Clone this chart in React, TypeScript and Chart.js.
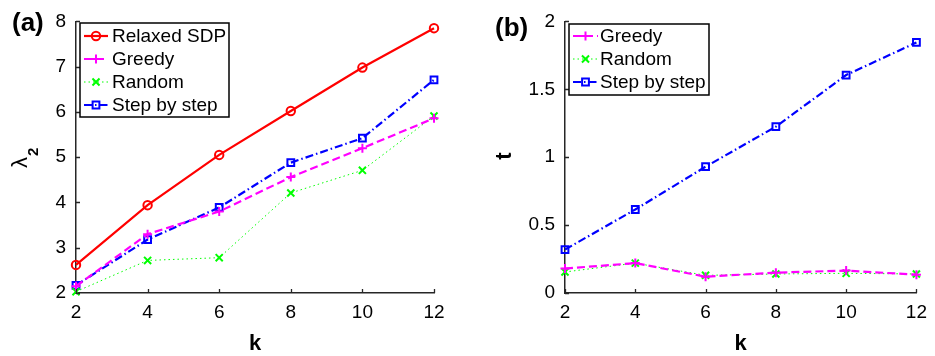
import React, { useEffect, useRef } from 'react';
import { Chart, registerables } from 'chart.js';

Chart.register(...registerables);

// ---------------- data ----------------
const kValues = [2, 4, 6, 8, 10, 12];
const xTickValues = [2, 4, 6, 8, 10, 12];

// panel (a): lambda_2
const lambdaSDP = [2.62, 3.94, 5.05, 6.02, 6.98, 7.85];
const lambdaGreedy = [2.15, 3.3, 3.8, 4.56, 5.2, 5.86];
const lambdaRandom = [2.03, 2.72, 2.78, 4.21, 4.71, 5.91];
const lambdaStep = [2.17, 3.18, 3.89, 4.88, 5.42, 6.71];

// panel (b): time t
const timeGreedy = [0.18, 0.22, 0.12, 0.15, 0.165, 0.135];
const timeRandom = [0.155, 0.22, 0.13, 0.14, 0.145, 0.14];
const timeStep = [0.32, 0.615, 0.93, 1.225, 1.605, 1.845];

const seriesNamesA = ['Relaxed SDP', 'Greedy', 'Random', 'Step by step'];
const seriesNamesB = ['Greedy', 'Random', 'Step by step'];

// ---------------- styles ----------------
const FONT = "'Liberation Sans', Arial, Helvetica, sans-serif";
const AXIS = '#262626';

type Style = {
  color: string;
  dash: number[];
  width: number;
  marker: 'circle' | 'cross' | 'crossRot' | 'rect';
  radius: number;
};

const STYLES: Record<string, Style> = {
  'Relaxed SDP': { color: '#ff0000', dash: [], width: 2.2, marker: 'circle', radius: 4.2 },
  Greedy: { color: '#ff00ff', dash: [8, 4], width: 2.2, marker: 'cross', radius: 4.5 },
  Random: { color: '#00ff00', dash: [1.5, 3], width: 1, marker: 'crossRot', radius: 5 },
  'Step by step': { color: '#0000ff', dash: [8, 3, 1.5, 3], width: 2.2, marker: 'rect', radius: 4.8 },
};

function drawMarker(ctx: CanvasRenderingContext2D, s: Style, x: number, y: number) {
  const r = s.radius;
  ctx.save();
  ctx.setLineDash([]);
  ctx.strokeStyle = s.color;
  ctx.lineWidth = 2;
  ctx.beginPath();
  if (s.marker === 'circle') {
    ctx.arc(x, y, r, 0, Math.PI * 2);
  } else if (s.marker === 'cross') {
    ctx.moveTo(x - r, y);
    ctx.lineTo(x + r, y);
    ctx.moveTo(x, y - r);
    ctx.lineTo(x, y + r);
  } else if (s.marker === 'crossRot') {
    const d = r * Math.SQRT1_2;
    ctx.moveTo(x - d, y - d);
    ctx.lineTo(x + d, y + d);
    ctx.moveTo(x - d, y + d);
    ctx.lineTo(x + d, y - d);
  } else {
    const d = r * Math.SQRT1_2;
    ctx.rect(x - d, y - d, 2 * d, 2 * d);
  }
  ctx.stroke();
  ctx.restore();
}

type PanelCfg = {
  names: string[];
  values: number[][];
  yMin: number;
  yMax: number;
  yStep: number;
  yAxisWidth: number;
  padding: { left: number; right: number; top: number; bottom: number };
  panelLabel: string;
  panelLabelPos: [number, number];
  drawYLabel: (ctx: CanvasRenderingContext2D) => void;
  legendBox: [number, number, number, number];
  legendRowY: number[];
  legendLineX: [number, number];
  legendTextX: number;
};

function makeDecorPlugin(cfg: PanelCfg) {
  return {
    id: 'decor',
    afterDraw(chart: any) {
      const ctx: CanvasRenderingContext2D = chart.ctx;
      const area = chart.chartArea;
      const xs = chart.scales.x;
      const ys = chart.scales.y;
      ctx.save();
      // inward ticks
      ctx.strokeStyle = AXIS;
      ctx.lineWidth = 1.3;
      ctx.beginPath();
      xs.ticks.forEach((t: any) => {
        const px = Math.round(xs.getPixelForValue(t.value)) + 0.5;
        ctx.moveTo(px, area.bottom);
        ctx.lineTo(px, area.bottom - 4);
      });
      ys.ticks.forEach((t: any) => {
        const py = Math.round(ys.getPixelForValue(t.value)) + 0.5;
        ctx.moveTo(area.left, py);
        ctx.lineTo(area.left + 4, py);
      });
      ctx.stroke();

      // panel label
      ctx.fillStyle = '#000';
      ctx.font = `bold 26px ${FONT}`;
      ctx.textAlign = 'left';
      ctx.textBaseline = 'alphabetic';
      ctx.fillText(cfg.panelLabel, cfg.panelLabelPos[0], cfg.panelLabelPos[1]);

      // x label
      ctx.font = `bold 22px ${FONT}`;
      ctx.textAlign = 'center';
      ctx.fillText('k', (area.left + area.right) / 2, 350);

      // y label
      cfg.drawYLabel(ctx);

      // legend
      const [bx, by, bw, bh] = cfg.legendBox;
      ctx.fillStyle = '#fff';
      ctx.fillRect(bx, by, bw, bh);
      ctx.strokeStyle = '#000';
      ctx.lineWidth = 1.5;
      ctx.strokeRect(bx, by, bw, bh);
      cfg.names.forEach((name, i) => {
        const s = STYLES[name];
        const y = cfg.legendRowY[i];
        ctx.save();
        ctx.strokeStyle = s.color;
        ctx.lineWidth = s.width;
        ctx.setLineDash(s.dash);
        ctx.beginPath();
        ctx.moveTo(cfg.legendLineX[0], y);
        ctx.lineTo(cfg.legendLineX[1], y);
        ctx.stroke();
        ctx.restore();
        drawMarker(ctx, s, (cfg.legendLineX[0] + cfg.legendLineX[1]) / 2, y);
        ctx.fillStyle = '#000';
        ctx.font = `19px ${FONT}`;
        ctx.textAlign = 'left';
        ctx.textBaseline = 'middle';
        ctx.fillText(name, cfg.legendTextX, y + 1);
      });
      ctx.restore();
    },
  };
}

function buildConfig(cfg: PanelCfg): any {
  const datasets = cfg.names.map((name, i) => {
    const s = STYLES[name];
    return {
      label: name,
      data: kValues.map((k, j) => ({ x: k, y: cfg.values[i][j] })),
      borderColor: s.color,
      borderWidth: s.width,
      borderDash: s.dash,
      pointStyle: s.marker,
      pointRadius: s.radius,
      pointBorderWidth: 2,
      pointBorderColor: s.color,
      pointBackgroundColor: 'rgba(0,0,0,0)',
      fill: false,
      tension: 0,
      clip: false,
    };
  });
  return {
    type: 'line',
    data: { datasets },
    options: {
      animation: false,
      responsive: false,
      devicePixelRatio: 1,
      layout: { padding: cfg.padding },
      plugins: { legend: { display: false }, tooltip: { enabled: false } },
      scales: {
        x: {
          type: 'linear',
          min: 2,
          max: 12,
          afterBuildTicks: (scale: any) => {
            scale.ticks = xTickValues.map((v) => ({ value: v }));
          },
          afterFit: (scale: any) => {
            scale.height = 63;
          },
          grid: { display: false, drawTicks: false },
          border: { display: true, color: AXIS, width: 1.5 },
          ticks: {
            color: '#000',
            padding: 8,
            maxRotation: 0,
            font: { family: FONT, size: 19 },
            callback: (v: any) => String(v),
          },
        },
        y: {
          type: 'linear',
          min: cfg.yMin,
          max: cfg.yMax,
          afterFit: (scale: any) => {
            scale.width = cfg.yAxisWidth;
          },
          grid: { display: false, drawTicks: false },
          border: { display: true, color: AXIS, width: 1.5 },
          ticks: {
            stepSize: cfg.yStep,
            color: '#000',
            padding: 10,
            font: { family: FONT, size: 19 },
            callback: (v: any) => String(Math.round(Number(v) * 100) / 100),
          },
        },
      },
    },
    plugins: [makeDecorPlugin(cfg)],
  };
}

const panelA: PanelCfg = {
  names: seriesNamesA,
  values: [lambdaSDP, lambdaGreedy, lambdaRandom, lambdaStep],
  yMin: 2,
  yMax: 8,
  yStep: 1,
  yAxisWidth: 76,
  padding: { left: 0, right: 36, top: 19, bottom: 0 },
  panelLabel: '(a)',
  panelLabelPos: [12, 31],
  drawYLabel: (ctx) => {
    ctx.save();
    ctx.translate(24, 155);
    ctx.rotate(-Math.PI / 2);
    ctx.fillStyle = '#000';
    ctx.textAlign = 'left';
    ctx.textBaseline = 'alphabetic';
    ctx.font = `22px ${FONT}`;
    ctx.fillText('λ', -13, 3);
    ctx.font = `bold 15px ${FONT}`;
    ctx.fillText('2', -1, 14);
    ctx.restore();
  },
  legendBox: [80, 23, 149, 94],
  legendRowY: [36, 59, 82, 105],
  legendLineX: [84, 108],
  legendTextX: 112,
};

const panelB: PanelCfg = {
  names: seriesNamesB,
  values: [timeGreedy, timeRandom, timeStep],
  yMin: 0,
  yMax: 2,
  yStep: 0.5,
  yAxisWidth: 95,
  padding: { left: 0, right: 14, top: 21, bottom: 0 },
  panelLabel: '(b)',
  panelLabelPos: [25, 36],
  drawYLabel: (ctx) => {
    ctx.save();
    ctx.translate(41, 156);
    ctx.rotate(-Math.PI / 2);
    ctx.fillStyle = '#000';
    ctx.textAlign = 'center';
    ctx.textBaseline = 'alphabetic';
    ctx.font = `bold 22px ${FONT}`;
    ctx.fillText('t', 0, 0);
    ctx.restore();
  },
  legendBox: [99, 24, 140, 71],
  legendRowY: [36, 59, 82],
  legendLineX: [103, 128],
  legendTextX: 130,
};

function Panel({ cfg, left, width }: { cfg: PanelCfg; left: number; width: number }) {
  const ref = useRef<HTMLCanvasElement>(null);
  useEffect(() => {
    if (!ref.current) return;
    const chart = new Chart(ref.current, buildConfig(cfg));
    return () => chart.destroy();
  }, [cfg]);
  return (
    <canvas
      ref={ref}
      width={width}
      height={356}
      style={{ position: 'absolute', left, top: 0, width, height: 356 }}
    />
  );
}

export default function App() {
  return (
    <div
      style={{
        position: 'fixed',
        left: 0,
        top: 0,
        width: 935,
        height: 356,
        background: '#fff',
      }}
    >
      <Panel cfg={panelA} left={0} width={470} />
      <Panel cfg={panelB} left={470} width={465} />
    </div>
  );
}
